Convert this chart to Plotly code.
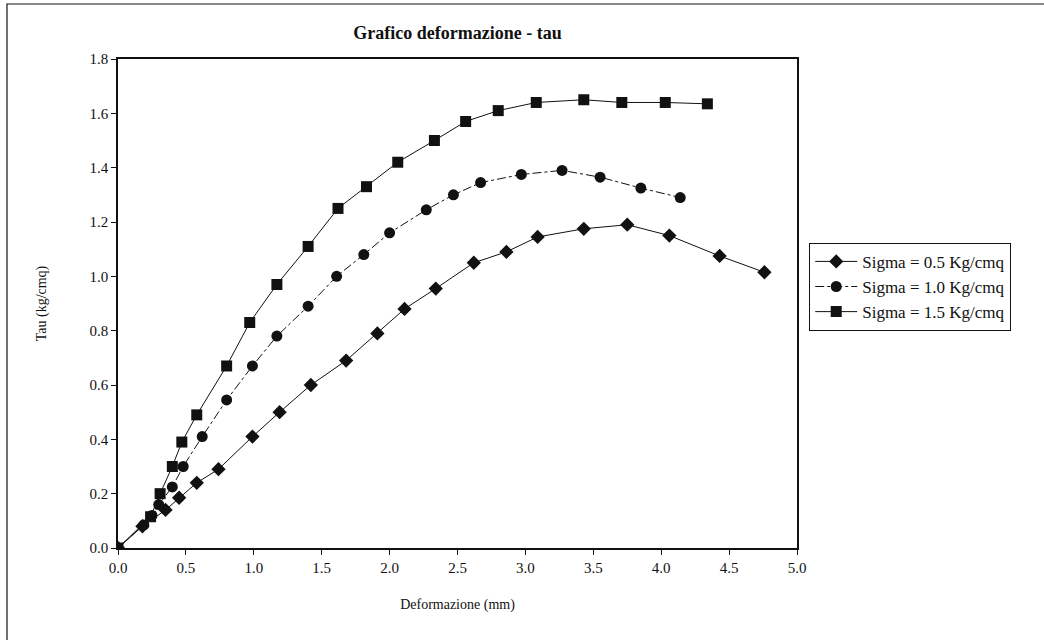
import plotly.graph_objects as go

# Sigma = 0.5 Kg/cmq (diamonds)
x_s05 = [0, 0.18, 0.35, 0.45, 0.58, 0.74, 0.99, 1.19, 1.42, 1.68, 1.91, 2.11, 2.34, 2.62, 2.86, 3.09, 3.43, 3.75, 4.06, 4.43, 4.76]
y_s05 = [0, 0.08, 0.14, 0.185, 0.24, 0.29, 0.41, 0.50, 0.60, 0.69, 0.79, 0.88, 0.955, 1.05, 1.09, 1.145, 1.175, 1.19, 1.15, 1.075, 1.015]

# Sigma = 1.0 Kg/cmq (circles)
x_s10 = [0, 0.19, 0.25, 0.30, 0.40, 0.48, 0.62, 0.80, 0.99, 1.17, 1.40, 1.61, 1.81, 2.00, 2.27, 2.47, 2.67, 2.97, 3.27, 3.55, 3.85, 4.14]
y_s10 = [0, 0.085, 0.12, 0.16, 0.225, 0.30, 0.41, 0.545, 0.67, 0.78, 0.89, 1.00, 1.08, 1.16, 1.245, 1.30, 1.345, 1.375, 1.39, 1.365, 1.325, 1.29]

# Sigma = 1.5 Kg/cmq (squares)
x_s15 = [0, 0.24, 0.31, 0.40, 0.47, 0.58, 0.80, 0.97, 1.17, 1.40, 1.62, 1.83, 2.06, 2.33, 2.56, 2.80, 3.08, 3.43, 3.71, 4.03, 4.34]
y_s15 = [0, 0.115, 0.20, 0.30, 0.39, 0.49, 0.67, 0.83, 0.97, 1.11, 1.25, 1.33, 1.42, 1.50, 1.57, 1.61, 1.64, 1.65, 1.64, 1.64, 1.635]

series_names = ["Sigma = 0.5 Kg/cmq", "Sigma = 1.0 Kg/cmq", "Sigma = 1.5 Kg/cmq"]
x_ticks = [0.0, 0.5, 1.0, 1.5, 2.0, 2.5, 3.0, 3.5, 4.0, 4.5, 5.0]
y_ticks = [0.0, 0.2, 0.4, 0.6, 0.8, 1.0, 1.2, 1.4, 1.6, 1.8]

FONT = "Liberation Serif, Times New Roman, serif"
INK = "#111111"

fig = go.Figure()
fig.add_trace(go.Scatter(x=x_s05, y=y_s05, name=series_names[0], mode="lines+markers",
                         line=dict(color=INK, width=1),
                         marker=dict(symbol="diamond", size=11, color=INK)))
fig.add_trace(go.Scatter(x=x_s10, y=y_s10, name=series_names[1], mode="lines+markers",
                         line=dict(color=INK, width=1, dash="dashdot"),
                         marker=dict(symbol="circle", size=11, color=INK)))
fig.add_trace(go.Scatter(x=x_s15, y=y_s15, name=series_names[2], mode="lines+markers",
                         line=dict(color=INK, width=1),
                         marker=dict(symbol="square", size=11, color=INK)))

fig.update_layout(
    width=1044, height=640,
    margin=dict(l=118, r=247, t=59, b=92),
    paper_bgcolor="white", plot_bgcolor="white",
    font=dict(family=FONT, size=14, color=INK),
    title=dict(text="<b>Grafico deformazione - tau</b>", x=0.5, xref="paper",
               y=1 - 33 / 640, yref="container", xanchor="center", yanchor="middle",
               font=dict(family=FONT, size=18, color=INK)),
    showlegend=True,
    legend=dict(x=1.018, y=0.624, xanchor="left", yanchor="top",
                bordercolor=INK, borderwidth=1, bgcolor="white",
                font=dict(family=FONT, size=17, color=INK),
                tracegroupgap=0, itemwidth=42),
)
fig.update_xaxes(range=[0, 5], tickvals=x_ticks, tickformat=".1f",
                 showgrid=False, zeroline=False,
                 showline=True, linecolor=INK, linewidth=1.5, mirror=True,
                 ticks="outside", ticklen=5, tickcolor=INK,
                 title=dict(text="Deformazione (mm)", font=dict(family=FONT, size=14), standoff=24),
                 tickfont=dict(family=FONT, size=15))
fig.update_yaxes(range=[0, 1.8], tickvals=y_ticks, tickformat=".1f",
                 showgrid=False, zeroline=False,
                 showline=True, linecolor=INK, linewidth=1.5, mirror=True,
                 ticks="outside", ticklen=5, tickcolor=INK,
                 title=dict(text="Tau (kg/cmq)", font=dict(family=FONT, size=14), standoff=40),
                 tickfont=dict(family=FONT, size=15))

# outer chart frame (left and top edges visible in the picture)
fig.add_shape(type="path", xref="paper", yref="paper",
              path="M -0.1635,-0.2 L -0.1635,1.1125 L 1.4,1.1125",
              line=dict(color=INK, width=1.2))

fig.write_html("out.html", config={"displayModeBar": False},
               post_script="document.body.style.margin='0';document.body.style.overflow='hidden';")
